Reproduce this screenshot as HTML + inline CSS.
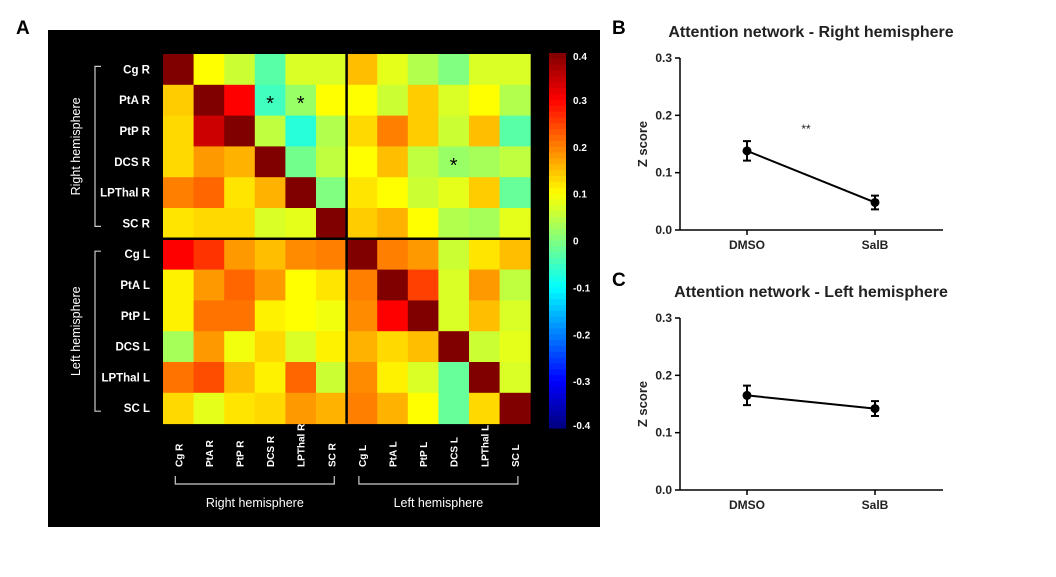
<!DOCTYPE html>
<html><head><meta charset="utf-8"><style>
body{margin:0;background:#fff;width:1056px;height:572px;overflow:hidden;font-family:"Liberation Sans",Arial,sans-serif}
svg text{font-family:"Liberation Sans",Arial,sans-serif}
</style></head><body>
<svg id="fig" width="1056" height="572" xmlns="http://www.w3.org/2000/svg">
<rect x="48" y="30" width="552" height="497" fill="#000"/>
<text x="16" y="34" font-size="19" font-weight="bold">A</text>
<text x="612" y="34" font-size="19" font-weight="bold">B</text>
<text x="612" y="286" font-size="19" font-weight="bold">C</text>
<g id="hm"></g>
<g id="cb"></g>
<g id="pb"></g>
<g id="pc"></g>
</svg>
<script>
const regions = ["Cg R","PtA R","PtP R","DCS R","LPThal R","SC R","Cg L","PtA L","PtP L","DCS L","LPThal L","SC L"];
const matrix = [
[0.40,0.10,0.06,-0.03,0.07,0.07, 0.15,0.08,0.04,0.00,0.07,0.07],
[0.14,0.40,0.30,-0.05,0.02,0.10, 0.10,0.06,0.14,0.07,0.10,0.04],
[0.13,0.34,0.40,0.05,-0.07,0.04, 0.13,0.20,0.14,0.06,0.15,-0.03],
[0.13,0.18,0.16,0.40,-0.01,0.05, 0.10,0.15,0.05,0.02,0.03,0.05],
[0.20,0.22,0.12,0.16,0.40,0.00, 0.12,0.10,0.06,0.08,0.14,-0.02],
[0.12,0.13,0.13,0.07,0.08,0.40, 0.14,0.16,0.10,0.04,0.03,0.08],
[0.30,0.26,0.18,0.15,0.19,0.20, 0.40,0.20,0.18,0.06,0.12,0.15],
[0.11,0.18,0.22,0.18,0.10,0.12, 0.20,0.40,0.25,0.07,0.18,0.05],
[0.11,0.21,0.21,0.11,0.10,0.09, 0.19,0.30,0.40,0.07,0.15,0.07],
[0.03,0.18,0.09,0.13,0.07,0.11, 0.16,0.13,0.15,0.40,0.06,0.08],
[0.21,0.24,0.15,0.11,0.22,0.06, 0.19,0.11,0.07,-0.02,0.40,0.07],
[0.13,0.08,0.12,0.13,0.18,0.16, 0.20,0.16,0.10,-0.02,0.13,0.40]];
const stars = [[1,3],[1,4],[3,9]];
const cbTicks = [0.4,0.3,0.2,0.1,0,-0.1,-0.2,-0.3,-0.4];
const groups = ["DMSO","SalB"];
const rightMeans = [0.138,0.048];
const rightErr = [0.017,0.012];
const leftMeans = [0.165,0.142];
const leftErr = [0.017,0.013];
const yTicks = [0,0.1,0.2,0.3];

const NS="http://www.w3.org/2000/svg";
function mk(p,t,a,txt){const e=document.createElementNS(NS,t);for(const k in a)e.setAttribute(k,a[k]);if(txt!==undefined)e.textContent=txt;p.appendChild(e);return e;}
function cl(x){return Math.max(0,Math.min(1,x));}
function jet(v){const t=(v+0.4)/0.8;const r=cl(1.5-Math.abs(4*t-3)),g=cl(1.5-Math.abs(4*t-2)),b=cl(1.5-Math.abs(4*t-1));return `rgb(${Math.round(r*255)},${Math.round(g*255)},${Math.round(b*255)})`;}

// heatmap
const hm=document.getElementById('hm');
const X0=163,Y0=54,CW=30.6,CH=30.8,N=regions.length;
matrix.forEach((row,i)=>row.forEach((v,j)=>{
 const r=mk(hm,'rect',{x:X0+j*CW,y:Y0+i*CH,width:CW+0.5,height:CH+0.5,fill:jet(v)});
 
 
}));
stars.forEach(s=>{const t=mk(hm,'text',{x:X0+(s[1]+0.5)*CW,y:Y0+(s[0]+0.5)*CH+10,'text-anchor':'middle','font-size':20,fill:'#000'},'*');
 
 });
mk(hm,'line',{x1:X0+6*CW,y1:Y0,x2:X0+6*CW,y2:Y0+N*CH,stroke:'#000','stroke-width':2.5});
mk(hm,'line',{x1:X0,y1:Y0+6*CH,x2:X0+N*CW,y2:Y0+6*CH,stroke:'#000','stroke-width':2.5});
regions.forEach((n,i)=>{
 const t=mk(hm,'text',{x:150,y:Y0+(i+0.5)*CH+4,'text-anchor':'end','font-size':11.5,'font-weight':'bold',fill:'#fff'},n);
 
 
 const cx=X0+(i+0.5)*CW+4;
 const u=mk(hm,'text',{x:cx,y:467,'font-size':10,'font-weight':'bold',fill:'#fff',transform:`rotate(-90 ${cx} 467)`},n);
 
 
});
[[0,'Right hemisphere'],[6,'Left hemisphere']].forEach(([s,lab])=>{
 const y1=Y0+(s+0.5)*CH-3,y2=Y0+(s+5.5)*CH+3;
 mk(hm,'path',{d:`M101 ${y1} H95 V${y2} H101`,stroke:'#ccc',fill:'none','stroke-width':1.2});
 const ty=(y1+y2)/2;
 mk(hm,'text',{x:80,y:ty,'text-anchor':'middle','font-size':12.5,fill:'#fff',transform:`rotate(-90 80 ${ty})`},lab);
 const x1=X0+(s+0.5)*CW-3,x2=X0+(s+5.5)*CW+3;
 mk(hm,'path',{d:`M${x1} 476 V484 H${x2} V476`,stroke:'#ccc',fill:'none','stroke-width':1.2});
 mk(hm,'text',{x:(x1+x2)/2,y:507,'text-anchor':'middle','font-size':12.5,fill:'#fff'},lab);
});
// colorbar
const cb=document.getElementById('cb');
const CBT=53,CBB=428;
for(let k=0;k<64;k++){const v=0.4-0.8*(k+0.5)/64;mk(cb,'rect',{x:549,y:CBT+k*(CBB-CBT)/64,width:17,height:(CBB-CBT)/64+0.6,fill:jet(v)});}
cbTicks.forEach(v=>{const y=CBT+(0.4-v)/0.8*(CBB-CBT);
 const t=mk(cb,'text',{x:573,y:y+4+(v===0.4?3:0)+(v===-0.4?-3:0),'font-size':10,'font-weight':'bold',fill:'#fff'},String(v));
 
 });

function lineChart(g,title,titleY,yTop,yBot,means,errs,sig){
 const ax=680,axEnd=943,xs=[747,875];
 const yS=v=>yBot-(v/0.3)*(yBot-yTop);
 mk(g,'text',{x:811,y:titleY,'text-anchor':'middle','font-size':16,'font-weight':'bold',fill:'#222'},title);
 mk(g,'line',{x1:ax,y1:yTop,x2:ax,y2:yBot,stroke:'#000','stroke-width':1.5});
 mk(g,'line',{x1:ax,y1:yBot,x2:axEnd,y2:yBot,stroke:'#000','stroke-width':1.5});
 yTicks.forEach(v=>{const y=yS(v);mk(g,'line',{x1:ax-5,y1:y,x2:ax,y2:y,stroke:'#000','stroke-width':1.5});
  const t=mk(g,'text',{x:ax-8,y:y+4,'text-anchor':'end','font-size':12,'font-weight':'bold',fill:'#222'},v.toFixed(1));
  
  });
 const my=(yTop+yBot)/2;
 mk(g,'text',{x:647,y:my,'text-anchor':'middle','font-size':13,'font-weight':'bold',fill:'#222',transform:`rotate(-90 647 ${my})`},'Z score');
 groups.forEach((n,i)=>{mk(g,'line',{x1:xs[i],y1:yBot,x2:xs[i],y2:yBot+5,stroke:'#000','stroke-width':1.5});
  const t=mk(g,'text',{x:xs[i],y:yBot+19,'text-anchor':'middle','font-size':12,'font-weight':'bold',fill:'#222'},n);
  
  });
 mk(g,'line',{x1:xs[0],y1:yS(means[0]),x2:xs[1],y2:yS(means[1]),stroke:'#000','stroke-width':2});
 means.forEach((m,i)=>{const x=xs[i],a=yS(m+errs[i]),b=yS(m-errs[i]);
  mk(g,'path',{d:`M${x-4} ${a}H${x+4}M${x} ${a}V${b}M${x-4} ${b}H${x+4}`,stroke:'#000','stroke-width':2,fill:'none'});
  const p=mk(g,'circle',{cx:x,cy:yS(m),r:4.5,fill:'#000'});
  
  });
 if(sig)mk(g,'text',{x:806,y:133,'text-anchor':'middle','font-size':12,fill:'#222'},sig);
}
lineChart(document.getElementById('pb'),'Attention network - Right hemisphere',37,58,230,rightMeans,rightErr,'**');
lineChart(document.getElementById('pc'),'Attention network - Left hemisphere',297,318,490,leftMeans,leftErr,null);
</script>
</body></html>
